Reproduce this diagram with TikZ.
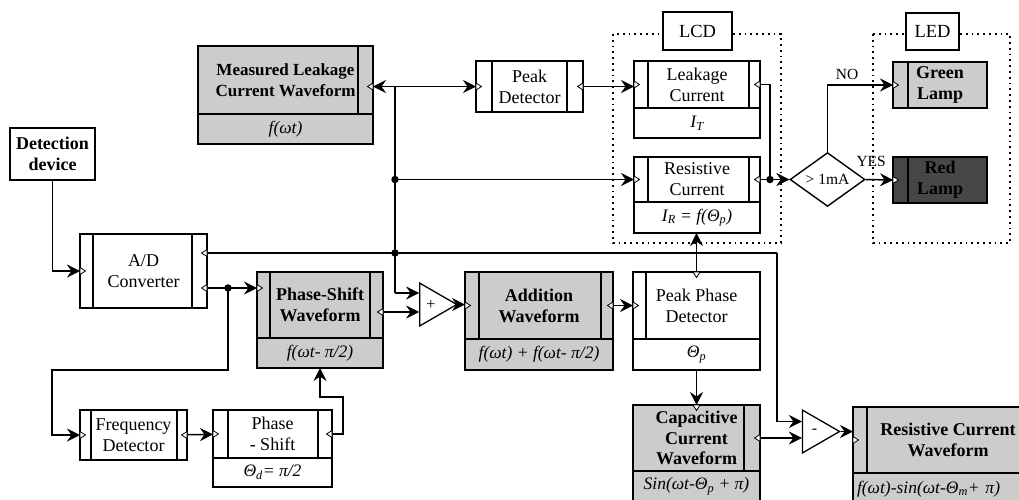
\documentclass[tikz,border=0pt]{standalone}
\usepackage{fontspec}
\setmainfont{Liberation Serif}
\usetikzlibrary{positioning,arrows.meta,shapes.geometric}

\newcommand\blkfont{\fontsize{18}{21}\selectfont}
\newcommand\frmfont{\fontsize{17.5}{19}\selectfont\itshape}
\newcommand\lblfont{\fontsize{15.5}{17}\selectfont}
\newcommand\subit[1]{\textsubscript{\itshape #1}}

\begin{document}
\begin{tikzpicture}[x=1pt, y=-1pt,
  blk/.style={draw, line width=1.4pt, outer sep=0pt, inner sep=1pt, align=center, font=\blkfont},
  bold/.style={font=\blkfont\bfseries},
  frm/.style={draw, line width=1.4pt, outer sep=0pt, inner sep=1pt, font=\frmfont},
  shade/.style={fill=black!20},
  bars/.style 2 args={path picture={
    \draw[line width=1.1pt] ([xshift=#1pt]path picture bounding box.north west) -- ([xshift=#1pt]path picture bounding box.south west);
    \draw[line width=1.1pt] ([xshift=-#2pt]path picture bounding box.north east) -- ([xshift=-#2pt]path picture bounding box.south east);}},
  tip/.tip={Stealth[length=13pt, width=13pt, inset=4.5pt, line width=0.5pt]},
  wire/.style={line width=1.5pt},
  flow/.style={line width=1.5pt, -tip},
  flowtwo/.style={line width=1.5pt, tip-tip},
  junction/.style={circle, fill, inner sep=0pt, minimum size=7.5pt},
  group/.style={line width=2.2pt, dash pattern=on 1.8pt off 4pt},
  tag/.style={draw, fill=white, line width=1.4pt, outer sep=0pt, font=\fontsize{18.5}{20}\selectfont},
  amp/.style={isosceles triangle, isosceles triangle apex angle=60, draw, line width=1.3pt,
    inner sep=0pt, minimum height=37pt, font=\fontsize{16}{16}\selectfont},
  port/.pic={\draw[line width=0.8pt, fill=white] (0,-3.5) -- (5.5,0) -- (0,3.5) -- cycle;},
]
\useasboundingbox (0,0) rectangle (1019,499);
\clip (0,0) rectangle (1019,499);

% display groups
\draw[group] (613,34) rectangle (781,243);
\draw[group] (873,34) rectangle (1010,243);
\node[tag, minimum width=69pt, minimum height=38pt] (lcd) at (697.5,31) {LCD};
\node[tag, minimum width=53pt, minimum height=37pt] (led) at (932.5,31.5) {LED};

% blocks
\node[blk, bold, minimum width=85pt, minimum height=52pt] (det) at (52.5,154) {Detection\\device};
\node[blk, bars={13}{15}, minimum width=127pt, minimum height=74pt] (adc) at (143.5,271) {A/D\\Converter};
\node[blk, bars={11}{10}, minimum width=107pt, minimum height=50pt] (fd) at (133.5,435) {Frequency\\Detector};
\node[blk, bars={15}{14}, minimum width=119pt, minimum height=48pt] (psh) at (272.5,434) {Phase\\- Shift};
\node[frm, minimum width=119pt, minimum height=29pt, below=0pt of psh] (pshf) {Θ\subit{d}= π/2};
\node[blk, bold, shade, bars={13}{13}, minimum width=126pt, minimum height=66pt] (psw) at (320,305) {Phase-Shift\\Waveform};
\node[frm, shade, minimum width=126pt, minimum height=30pt, below=0pt of psw] (pswf) {f(ωt- π/2)};
\node[blk, bold, shade, bars={0}{15}, minimum width=175pt, minimum height=68pt, font=\fontsize{17}{21}\selectfont\bfseries] (mlc) at (285.5,80) {Measured Leakage\\Current Waveform};
\node[frm, shade, minimum width=175pt, minimum height=30pt, below=0pt of mlc] (mlcf) {f(ωt)};
\node[blk, bars={16}{16}, minimum width=107pt, minimum height=51pt] (pd) at (529.5,86.5) {Peak\\Detector};
\node[blk, bars={14}{11}, minimum width=126pt, minimum height=47pt] (lc) at (697,84.5) {Leakage\\Current};
\node[frm, minimum width=126pt, minimum height=30pt, below=0pt of lc] (lcf) {I\subit{T}};
\node[blk, bars={14}{11}, minimum width=126pt, minimum height=45pt] (rc) at (697,179.5) {Resistive\\Current};
\node[frm, minimum width=126pt, minimum height=31pt, below=0pt of rc] (rcf) {I\subit{R} = f(Θ\subit{p})};
\node[blk, bold, shade, bars={14}{12}, minimum width=148pt, minimum height=67pt] (add) at (539,305.5) {Addition\\Waveform};
\node[frm, shade, minimum width=148pt, minimum height=31pt, below=0pt of add] (addf) {f(ωt) + f(ωt- π/2)};
\node[blk, bars={13}{0}, minimum width=127pt, minimum height=67pt] (ppd) at (696.5,305.5) {Peak Phase\\Detector};
\node[frm, minimum width=127pt, minimum height=31pt, below=0pt of ppd] (ppdf) {Θ\subit{p}};
\node[blk, bold, shade, bars={0}{16}, minimum width=127pt, minimum height=66pt, font=\fontsize{18}{20.5}\selectfont\bfseries] (ccw) at (696.5,438) {Capacitive\\Current\\Waveform};
\node[frm, shade, minimum width=127pt, minimum height=30pt, below=0pt of ccw] (ccwf) {Sin(ωt-Θ\subit{p} + π)};
\node[blk, bold, shade, bars={14}{0}, minimum width=190pt, minimum height=66pt] (rcw) at (948,440) {Resistive Current\\Waveform};
\node[frm, shade, minimum width=190pt, minimum height=32pt, inner xsep=4pt, text width=182pt, align=left, below=0pt of rcw] (rcwf) {f(ωt)-sin(ωt-Θ\subit{m}+ π)};
\node[blk, bold, shade, bars={15}{0}, minimum width=94pt, minimum height=46pt] (gl) at (940,85) {Green\\Lamp};
\node[blk, bold, fill=black!72, bars={15}{0}, minimum width=94pt, minimum height=46pt] (rl) at (940,180) {Red\\Lamp};
\node[diamond, draw, line width=1.4pt, minimum width=75pt, minimum height=48pt, inner sep=0pt, font=\lblfont] (cmp) at (827.5,179.5) {> 1mA};
\node[amp] (sum) at (431,304.5) {+};
\node[amp] (sub) at (814.5,431.5) {-};

% junctions
\coordinate (jM) at (395,86.5);
\coordinate (jS) at (395,293);
\coordinate (kS) at (777,253);
\coordinate (kF) at (52,370);
\coordinate (kP) at (343,397);
\coordinate (pswOut) at ([yshift=-7pt]psw.east);
\node[junction] (jR) at (395,179.5) {};
\node[junction] (jB) at (395,253) {};
\node[junction] (jA) at (228,288) {};
\node[junction] (jC) at (770,179.5) {};

% connectors
\draw[flow] (det.south) |- (adc.west);
\draw[wire] (adc.east |- jB) -- (kS);
\draw[flow] (kS) |- ([yshift=10pt]sub.west);
\draw[flow] (adc.east |- jA) -- (psw.west |- jA);
\draw[flow] (jA.center) |- (kF) |- (fd.west);
\draw[flow] (fd) -- (psh);
\draw[flow] (psh.east) -| (kP) -| (pswf.south);
\draw[flowtwo] (mlc.east |- jM) -- (pd.west);
\draw[wire] (jM) -- (jS);
\draw[flow] (jR.center) -- (rc.west);
\draw[flow] (jS) -- (jS -| sum.west);
\draw[flow] (pswOut) -- (pswOut -| sum.west);
\draw[flow] (sum.apex) -- (sum.apex -| add.west);
\draw[flow] (add.east) -- (ppd.west);
\draw[flow] (ppd.north) -- (ppd.north |- rcf.south);
\draw[flow] (ppdf.south) -- (ccw.north);
\draw[flow] (ccw.east) -- (ccw.east -| sub.west);
\draw[flow] (sub.apex) -- (sub.apex -| rcw.west);
\draw[flow] (pd.east) -- (pd.east -| lc.west);
\draw[wire] (lc.east) -| (jC.center);
\draw[flow] (rc.east) -- (cmp.west);
\draw[flow] (cmp.north) |- node[pos=0.65, above=1pt, font=\lblfont] {NO} (gl.west);
\draw[flow] (cmp.east) -- node[pos=0.2, above=9pt, font=\lblfont] {YES} (rl.west);

% port marks
\foreach \p in {adc.west, fd.west, psh.west, psw.west |- jA, pd.west, lc.west, rc.west,
                add.west, ppd.west, rcw.west, gl.west, rl.west}
  \pic at (\p) {port};
\foreach \p in {adc.east |- jB, adc.east |- jA, fd.east, psh.east, pswOut, mlc.east |- jM,
                pd.east, lc.east, rc.east, add.east, ccw.east}
  \pic[rotate=180] at (\p) {port};
\foreach \p in {ppd.north, ccw.north}
  \pic[rotate=-90] at (\p) {port};
\end{tikzpicture}
\end{document}
